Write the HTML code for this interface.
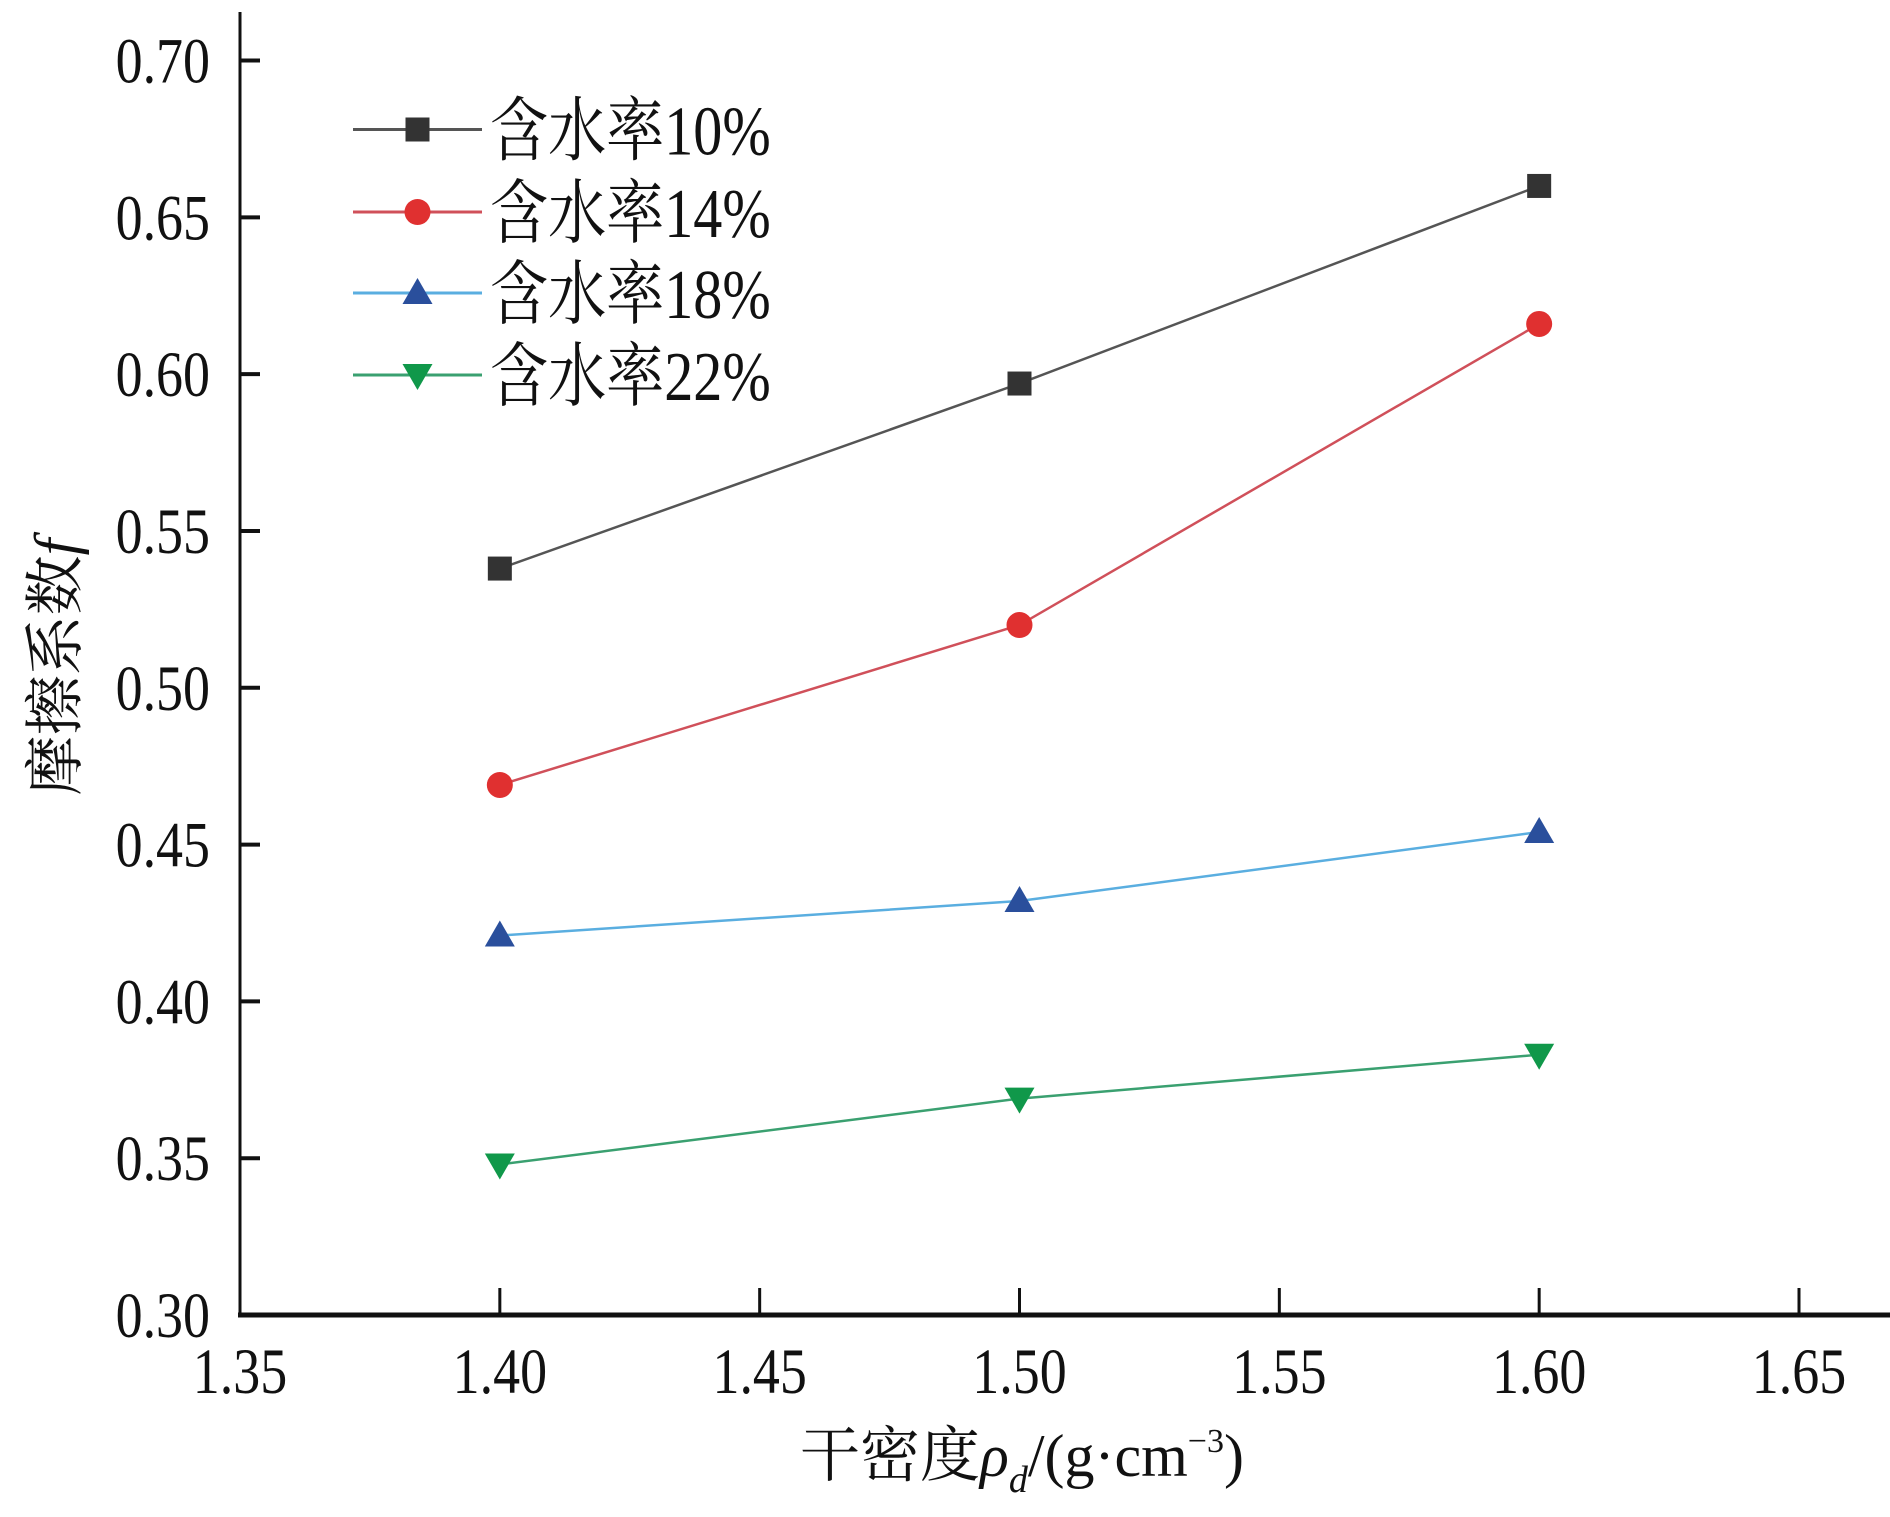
<!DOCTYPE html>
<html><head><meta charset="utf-8"><style>
html,body{margin:0;padding:0;background:#fff;}
svg{display:block;}
text{font-family:"Liberation Serif","Noto Serif CJK SC",serif;fill:#111;}
</style></head><body>
<svg id="chart" width="1890" height="1517" viewBox="0 0 1890 1517" xmlns="http://www.w3.org/2000/svg"></svg>
<script>
const xTicks = [1.35, 1.40, 1.45, 1.50, 1.55, 1.60, 1.65];
const xTickLabels = ["1.35","1.40","1.45","1.50","1.55","1.60","1.65"];
const yTicks = [0.30,0.35,0.40,0.45,0.50,0.55,0.60,0.65,0.70];
const yTickLabels = ["0.30","0.35","0.40","0.45","0.50","0.55","0.60","0.65","0.70"];
const densities = [1.40, 1.50, 1.60];
const seriesNames = ["含水率10%","含水率14%","含水率18%","含水率22%"];
const w10 = [0.538, 0.597, 0.660];
const w14 = [0.469, 0.520, 0.616];
const w18 = [0.421, 0.432, 0.454];
const w22 = [0.348, 0.369, 0.383];

const svg = document.getElementById('chart');
const NS = 'http://www.w3.org/2000/svg';
const X0 = 240, Y0 = 1315, X1 = 1799, YT = 60.5;
function xs(v){ return X0 + (v - 1.35) / 0.30 * (X1 - X0); }
function ys(v){ return Y0 - (v - 0.30) / 0.40 * (Y0 - YT); }
function mk(tag, attrs, parent){
  const e = document.createElementNS(NS, tag);
  for (const k in attrs) e.setAttribute(k, attrs[k]);
  (parent || svg).appendChild(e);
  return e;
}
function txt(str, x, y, size, anchor, sx, parent){
  const t = mk('text', {transform:`translate(${x},${y}) scale(${sx},1)`, 'font-size':size, 'text-anchor':anchor}, parent);
  t.textContent = str;
  return t;
}

const ax = mk('g', {});


mk('line', {x1:X0, y1:12, x2:X0, y2:Y0+2, stroke:'#111', 'stroke-width':3}, ax);
mk('line', {x1:X0-2, y1:Y0, x2:1890, y2:Y0, stroke:'#111', 'stroke-width':5}, ax);

yTicks.forEach((v, i) => {
  const y = ys(v);
  const l = mk('line', {x1:X0, y1:y, x2:X0+20, y2:y, stroke:'#111', 'stroke-width':4}, ax);
  
  
  const t = txt(yTickLabels[i], 210, y + 22, 65, 'end', 0.83, ax);
  
  
});
xTicks.forEach((v, i) => {
  const x = xs(v);
  if (i > 0) {
    const l = mk('line', {x1:x, y1:Y0, x2:x, y2:Y0-27, stroke:'#111', 'stroke-width':3}, ax);
    
    
  }
  const t = txt(xTickLabels[i], x, 1393, 65, 'middle', 0.83, ax);
  
  
});

const xt = mk('text', {x:1022, y:1476, 'font-size':60, 'text-anchor':'middle'});


xt.innerHTML = '干密度<tspan font-style="italic">ρ</tspan><tspan font-style="italic" font-size="38" dy="16">d</tspan><tspan dy="-16">/(g·cm</tspan><tspan font-size="34" dy="-24">−3</tspan><tspan dy="24">)</tspan>';
const yt = mk('text', {x:0, y:0, 'font-size':60, 'text-anchor':'middle', transform:'translate(76,667) rotate(-90)'});


yt.innerHTML = '摩擦系数<tspan font-style="italic">f</tspan>';

const allSeries = [w10, w14, w18, w22];
const lineColors = ['#555', '#d0505a', '#5aaee0', '#3aa070'];
const markColors = ['#333', '#e03030', '#2a4f9c', '#10984a'];
const shapes = ['square','circle','up','down'];

function marker(shape, x, y, color, parent){
  let e;
  if (shape === 'square') e = mk('rect', {x:x-12, y:y-12, width:24, height:24, fill:color}, parent);
  else if (shape === 'circle') e = mk('circle', {cx:x, cy:y, r:13, fill:color}, parent);
  else if (shape === 'up') e = mk('polygon', {points:`${x},${y-15} ${x+15},${y+11} ${x-15},${y+11}`, fill:color}, parent);
  else e = mk('polygon', {points:`${x},${y+15} ${x+15},${y-11} ${x-15},${y-11}`, fill:color}, parent);
  return e;
}

allSeries.forEach((vals, si) => {
  const g = mk('g', {});
  
  
  const pts = vals.map((v, i) => xs(densities[i]) + ',' + ys(v)).join(' ');
  const pl = mk('polyline', {points:pts, fill:'none', stroke:lineColors[si], 'stroke-width':2.5}, g);
  
  
  vals.forEach((v, i) => {
    const m = marker(shapes[si], xs(densities[i]), ys(v), markColors[si], g);
    
    
  });
});

const lg = mk('g', {});


const legY = [129.5, 212, 293, 375];
seriesNames.forEach((n, si) => {
  const e = mk('g', {}, lg);
  
  
  mk('line', {x1:353, y1:legY[si], x2:482, y2:legY[si], stroke:lineColors[si], 'stroke-width':3}, e);
  marker(shapes[si], 417.5, legY[si], markColors[si], e);
  txt(n, 490, legY[si] + 25, 70, 'start', 0.83, e);
});
</script>
</body></html>
